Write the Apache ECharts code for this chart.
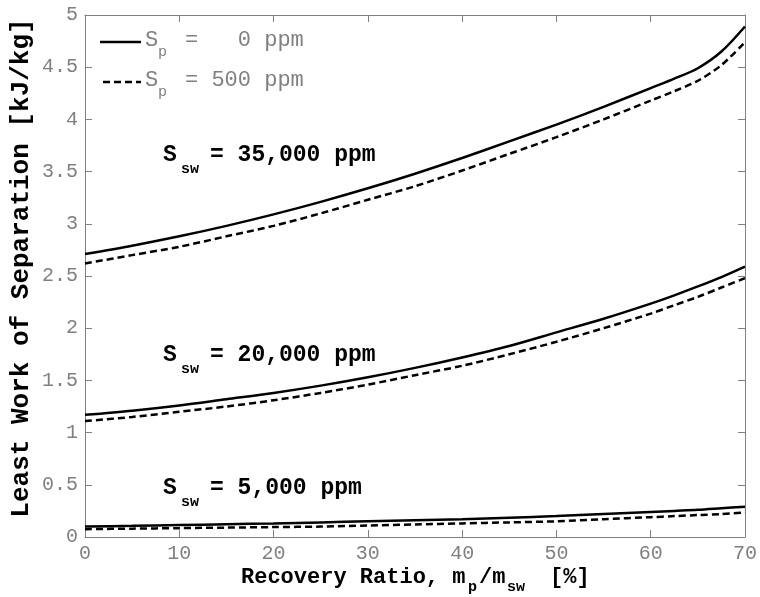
<!DOCTYPE html>
<html>
<head>
<meta charset="utf-8">
<script src="https://cdn.jsdelivr.net/npm/echarts@6/dist/echarts.min.js"></script>
<style>
  html, body { margin: 0; padding: 0; background: #fff; }
  #chart { width: 760px; height: 597px; }
</style>
</head>
<body>
<div id="chart"></div>
<script>
// recovery ratio [%]
const recovery = [0, 5, 10, 15, 20, 25, 30, 35, 40, 45, 50, 55, 60, 62.5, 65, 67.5, 70];

// least work [kJ/kg], Sp = 0 ppm (solid) and Sp = 500 ppm (dashed)
const sw35000_sp0   = [2.71, 2.79, 2.88, 2.98, 3.09, 3.21, 3.34, 3.48, 3.63, 3.79, 3.95, 4.12, 4.30, 4.39, 4.49, 4.65, 4.89];
const sw35000_sp500 = [2.62, 2.70, 2.78, 2.88, 2.98, 3.10, 3.23, 3.36, 3.51, 3.67, 3.83, 4.00, 4.18, 4.27, 4.37, 4.52, 4.74];
const sw20000_sp0   = [1.17, 1.21, 1.26, 1.32, 1.38, 1.45, 1.53, 1.62, 1.72, 1.83, 1.96, 2.09, 2.235, 2.315, 2.40, 2.49, 2.59];
const sw20000_sp500 = [1.11, 1.15, 1.20, 1.25, 1.31, 1.38, 1.46, 1.55, 1.64, 1.75, 1.87, 2.00, 2.14, 2.22, 2.30, 2.39, 2.48];
const sw5000_sp0    = [0.10, 0.107, 0.115, 0.122, 0.13, 0.14, 0.15, 0.16, 0.17, 0.185, 0.20, 0.22, 0.24, 0.25, 0.26, 0.275, 0.29];
const sw5000_sp500  = [0.075, 0.08, 0.085, 0.09, 0.095, 0.10, 0.11, 0.12, 0.13, 0.14, 0.15, 0.17, 0.19, 0.20, 0.21, 0.22, 0.235];

const salinityLabels = ['35,000', '20,000', '5,000'];
const legendLabels = ['=   0 ppm', '= 500 ppm'];

const MONO = '"Liberation Mono", "DejaVu Sans Mono", monospace';
const GREY = '#808080';

const pairs = vals => vals.map((v, i) => [recovery[i], v]);

const makeSeries = (vals, dashed) => ({
    type: 'line',
    data: pairs(vals),
    showSymbol: false,
    smooth: 0.3,
    lineStyle: { color: '#000', width: 2.5, type: dashed ? [7, 4] : 'solid' },
    z: dashed ? 3 : 4
});

const chart = echarts.init(document.getElementById('chart'));

const axisCommon = {
    axisLine: { show: true, onZero: false, lineStyle: { color: GREY, width: 1 } },
    axisTick: { show: true, inside: true, length: 7, lineStyle: { color: GREY } },
    splitLine: { show: false }
};

const tickLabel = { color: GREY, fontFamily: MONO, fontSize: 20 };

// text annotations for each salinity
const annotY = [157, 357, 490];
const graphics = [];
salinityLabels.forEach((s, i) => {
    graphics.push(
        { type: 'text', left: 163, top: annotY[i] - 13, style: { text: 'S', font: 'bold 23px ' + MONO, fill: '#000' } },
        { type: 'text', left: 181, top: annotY[i] + 5, style: { text: 'sw', font: 'bold 15px ' + MONO, fill: '#000' } },
        { type: 'text', left: 210, top: annotY[i] - 13, style: { text: '= ' + s + ' ppm', font: 'bold 23px ' + MONO, fill: '#000' } }
    );
});

// legend
const legY = [41, 81];
legendLabels.forEach((t, i) => {
    graphics.push(
        { type: 'line', shape: { x1: i ? 103 : 100, y1: legY[i] + 1, x2: 141, y2: legY[i] + 1 },
          style: { stroke: '#000', lineWidth: 2.5, lineDash: i ? [7, 4] : null } },
        { type: 'text', left: 145, top: legY[i] - 12, style: { text: 'S', font: '22px ' + MONO, fill: GREY } },
        { type: 'text', left: 158, top: legY[i] + 4, style: { text: 'p', font: '15px ' + MONO, fill: GREY } },
        { type: 'text', left: 185, top: legY[i] - 12, style: { text: t, font: '22px ' + MONO, fill: GREY } }
    );
});

// x axis title with subscripts
const xt = 566;
graphics.push(
    { type: 'text', left: 241, top: xt, style: { text: 'Recovery Ratio, m', font: 'bold 22px ' + MONO, fill: '#000' } },
    { type: 'text', left: 468, top: xt + 14, style: { text: 'p', font: 'bold 15px ' + MONO, fill: '#000' } },
    { type: 'text', left: 479, top: xt, style: { text: '/m', font: 'bold 22px ' + MONO, fill: '#000' } },
    { type: 'text', left: 507, top: xt + 14, style: { text: 'sw', font: 'bold 15px ' + MONO, fill: '#000' } },
    { type: 'text', left: 550, top: xt, style: { text: '[%]', font: 'bold 22px ' + MONO, fill: '#000' } }
);

// y axis title
graphics.push({
    type: 'text', x: 21, y: 268, rotation: Math.PI / 2,
    style: { text: 'Least Work of Separation [kJ/kg]', font: 'bold 26px ' + MONO, fill: '#000',
             textAlign: 'center', textVerticalAlign: 'middle' }
});

const option = {
    backgroundColor: '#fff',
    animation: false,
    grid: { left: 85, right: 15, top: 15, bottom: 60 },
    xAxis: [
        Object.assign({ type: 'value', min: 0, max: 70, interval: 10, position: 'bottom',
            axisLabel: Object.assign({ margin: 7 }, tickLabel) }, axisCommon),
        Object.assign({ type: 'value', min: 0, max: 70, interval: 10, position: 'top',
            axisLabel: { show: false } }, axisCommon)
    ],
    yAxis: [
        Object.assign({ type: 'value', min: 0, max: 5, interval: 0.5, position: 'left',
            axisLabel: Object.assign({ margin: 7 }, tickLabel) }, axisCommon),
        Object.assign({ type: 'value', min: 0, max: 5, interval: 0.5, position: 'right',
            axisLabel: { show: false } }, axisCommon)
    ],
    series: [
        makeSeries(sw35000_sp0, false),
        makeSeries(sw35000_sp500, true),
        makeSeries(sw20000_sp0, false),
        makeSeries(sw20000_sp500, true),
        makeSeries(sw5000_sp0, false),
        makeSeries(sw5000_sp500, true)
    ],
    graphic: graphics
};

chart.setOption(option);
window.addEventListener('resize', () => chart.resize());
</script>
</body>
</html>
